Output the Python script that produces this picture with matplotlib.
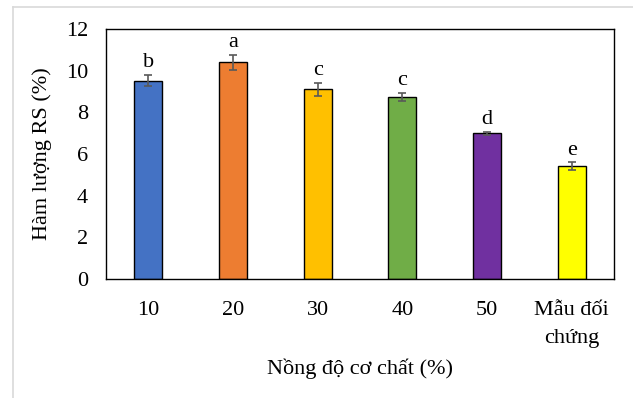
import matplotlib
matplotlib.use("Agg")
import matplotlib.pyplot as plt
from matplotlib.lines import Line2D

categories = ["10", "20", "30", "40", "50", "Mẫu đối\nchứng"]
values = [9.52, 10.40, 9.10, 8.75, 7.00, 5.42]
errors = [0.27, 0.35, 0.30, 0.19, 0.08, 0.18]
letters = ["b", "a", "c", "c", "d", "e"]
colors = ["#4472C4", "#ED7D31", "#FFC000", "#70AD47", "#7030A0", "#FFFF00"]

plt.rcParams['font.family'] = ['Liberation Serif', 'DejaVu Serif']

fig = plt.figure(figsize=(6.33, 3.98), dpi=100)
ax = fig.add_axes([0.1675, 0.299, 0.8025, 0.628])

x = range(len(categories))
ax.bar(x, values, width=0.33, color=colors, edgecolor="black", linewidth=1.0, zorder=2)
ax.errorbar(x, values, yerr=errors, fmt="none", ecolor="#595959", elinewidth=1.2,
            capsize=3, capthick=1.2, zorder=3)

for xi, v, e, lab in zip(x, values, errors, letters):
    ax.annotate(lab, (xi, v + e), xytext=(0, 2), textcoords="offset points",
                ha="center", va="bottom", fontsize=16)

ax.set_xlim(-0.5, len(categories) - 0.5)
ax.set_ylim(0, 12)
ax.set_yticks([0, 2, 4, 6, 8, 10, 12])
ax.set_xticks(list(x))
ax.set_xticklabels(categories, fontsize=16, linespacing=1.6)
ax.tick_params(axis="x", length=0, pad=16)
ax.tick_params(axis="y", length=0, pad=13, labelsize=16)
for s in ax.spines.values():
    s.set_color("black")
    s.set_linewidth(1.0)

ax.set_ylabel("Hàm lượng RS (%)", fontsize=16, labelpad=10)
ax.set_xlabel("Nồng độ cơ chất (%)", fontsize=16, labelpad=8)

# light chart-area frame
fig.add_artist(Line2D([13/633, 13/633], [0, 1 - 7/398], color="#d9d9d9", lw=1.2, transform=fig.transFigure))
fig.add_artist(Line2D([13/633, 1], [1 - 7/398, 1 - 7/398], color="#d9d9d9", lw=1.2, transform=fig.transFigure))

plt.savefig("out.png", dpi=100)
plt.close()
